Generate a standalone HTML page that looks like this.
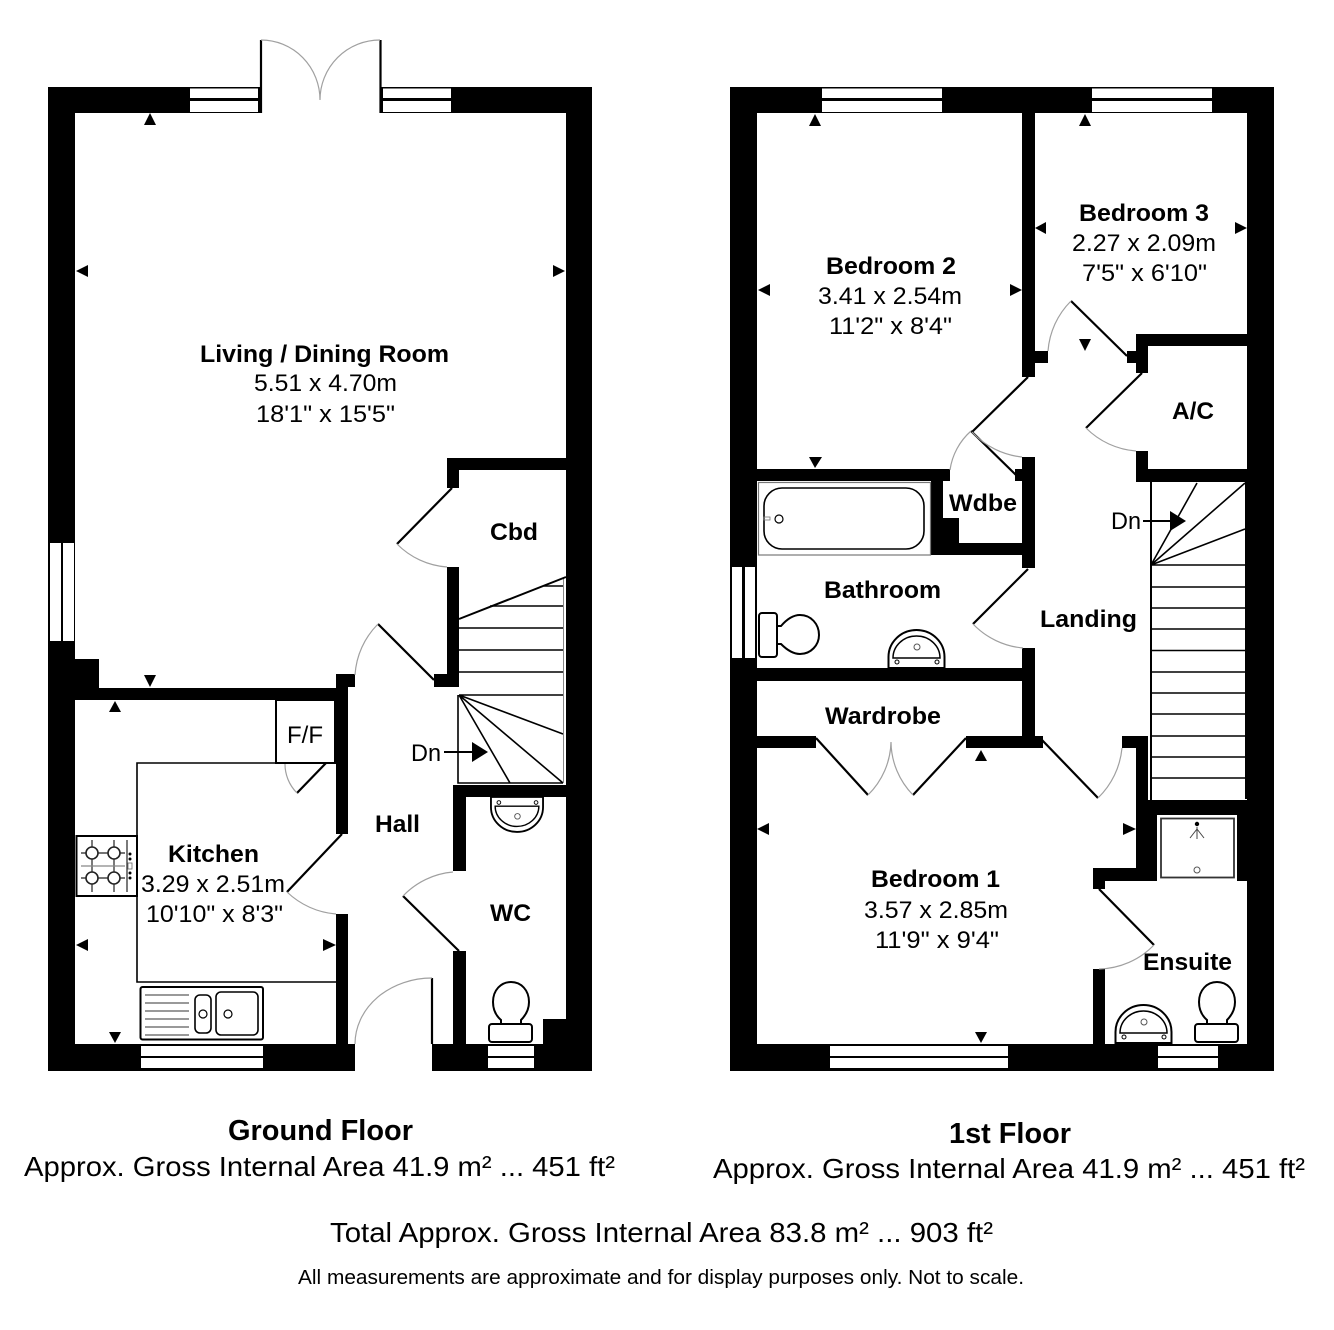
<!DOCTYPE html>
<html>
<head>
<meta charset="utf-8">
<style>
html,body{margin:0;padding:0;background:#fff}
svg{display:block}
text{font-family:"Liberation Sans",Arial,sans-serif;fill:#000}
.b{font-weight:bold;font-size:24.5px}
.r{font-size:24.5px}
.leaf{stroke:#000;stroke-width:2.2;fill:none}
.arc{stroke:#a0a0a0;stroke-width:1.2;fill:none}
.l{stroke:#000;stroke-width:1.6;fill:none}
.t{stroke:#000;stroke-width:2;fill:#fff}
</style>
</head>
<body>
<svg width="1334" height="1330" viewBox="0 0 1334 1330" xmlns="http://www.w3.org/2000/svg">
<rect width="1334" height="1330" fill="#fff"/>

<!-- GROUND FLOOR WALLS -->
<g fill="#000">
<rect x="48" y="87" width="27" height="984"/>
<rect x="48" y="87" width="214" height="26"/>
<rect x="380" y="87" width="212" height="26"/>
<rect x="566" y="87" width="26" height="984"/>
<rect x="48" y="1044" width="307" height="27"/>
<rect x="432" y="1044" width="160" height="27"/>
<rect x="75" y="659" width="24" height="30"/>
<rect x="75" y="688" width="273" height="12"/>
<rect x="336" y="674" width="12" height="160"/>
<rect x="336" y="674" width="19" height="13"/>
<rect x="336" y="914" width="12" height="130"/>
<rect x="447" y="458" width="119" height="12"/>
<rect x="447" y="458" width="12" height="30"/>
<rect x="447" y="567" width="12" height="120"/>
<rect x="434" y="674" width="25" height="13"/>
<rect x="453" y="785" width="113" height="12"/>
<rect x="453" y="785" width="13" height="86"/>
<rect x="453" y="951" width="13" height="93"/>
<rect x="543" y="1019" width="23" height="25"/>
</g>
<!-- ground windows -->
<g fill="#fff">
<rect x="190" y="88.5" width="68" height="9.5"/><rect x="190" y="101" width="68" height="11"/>
<rect x="383" y="88.5" width="68" height="9.5"/><rect x="383" y="101" width="68" height="11"/>
<rect x="50" y="543" width="11" height="98"/><rect x="63" y="543" width="11" height="98"/>
<rect x="141" y="1046" width="122" height="10"/><rect x="141" y="1058" width="122" height="10"/>
<rect x="488" y="1046" width="46" height="10"/><rect x="488" y="1058" width="46" height="10"/>
</g>
<!-- French doors -->
<path class="leaf" d="M261 40V113M380.500 40V113"/>
<path class="arc" d="M261 40A59 60 0 0 1 320 100M380 40A60 60 0 0 0 320 100"/>
<!-- ground doors -->
<path class="leaf" d="M452 488L397 544M434 680L378 624M459 951L403 896M342 834L287 892M326 763L297 793M432 978V1044"/>
<path class="arc" d="M397 544A78 78 0 0 0 447 567M378 624A79 79 0 0 0 355 675M403 896A78 78 0 0 1 453 872M287 892A80 80 0 0 0 336 914M297 793A41 41 0 0 1 285 763M432 978A77 66 0 0 0 355 1044"/>
<!-- ground stairs -->
<path class="l" d="M458 695V783H563M459 695H563M459 672H563M459 650H563M459 628H563M490 606H563M544 586H563M459 695L563 734M459 695L563 783M459 695L510 783"/>
<path d="M563.500 578V783" stroke="#888" stroke-width="1" fill="none"/>
<path d="M459 619L566 577" stroke="#000" stroke-width="2" fill="none"/>
<path d="M444 752H472" stroke="#000" stroke-width="2"/>
<path d="M472 742L488 752L472 762Z" fill="#000"/>
<!-- kitchen fittings -->
<path class="l" d="M137 836V763H276M137 896V982H336"/>
<rect x="276" y="700" width="59" height="63" fill="none" stroke="#000" stroke-width="2"/>
<rect x="76.500" y="836" width="60.500" height="60" fill="#fff" stroke="#000" stroke-width="2"/>
<g stroke="#222" stroke-width="1.2" fill="none">
<path d="M92 840V892M114 840V892M81 853H125M81 878H125M127 840V892"/>
<path d="M81 866H125" stroke="#888"/>
<circle cx="92" cy="853" r="6" fill="#fff" stroke-width="1.6"/><circle cx="114" cy="853" r="6" fill="#fff" stroke-width="1.6"/>
<circle cx="92" cy="878" r="6" fill="#fff" stroke-width="1.6"/><circle cx="114" cy="878" r="6" fill="#fff" stroke-width="1.6"/>
</g>
<g fill="#000"><circle cx="130" cy="854" r="1.5"/><circle cx="130" cy="859" r="1.5"/><circle cx="130" cy="873" r="1.5"/><circle cx="130" cy="878" r="1.500"/></g>
<rect x="128" y="863" width="4" height="6" fill="#fff" stroke="#666" stroke-width=".8"/>
<rect x="140.500" y="987" width="122.500" height="52.500" rx="2" fill="#fff" stroke="#000" stroke-width="2"/>
<path d="M145 995H189M145 1003H189M145 1011H189M145 1019H189M145 1027H189M145 1035H189" stroke="#333" stroke-width="1" fill="none"/>
<rect x="195" y="995" width="16" height="38" rx="5" fill="none" stroke="#000" stroke-width="1.6"/>
<rect x="216" y="992" width="42" height="43" rx="5" fill="none" stroke="#000" stroke-width="1.6"/>
<circle cx="203" cy="1014" r="4" fill="none" stroke="#000" stroke-width="1.2"/>
<circle cx="228" cy="1014" r="4" fill="none" stroke="#000" stroke-width="1.2"/>
<!-- WC fittings -->
<g transform="translate(517,797) scale(.93,-.92) translate(-916.5,-668)">
<path class="t" d="M888.500 668V657A28 27 0 0 1 944.500 657V668Z"/>
<path d="M893 658A23.500 22 0 0 1 940 658Z" fill="none" stroke="#000" stroke-width="1.500"/>
<circle cx="897" cy="662" r="2" fill="#fff" stroke="#000"/><circle cx="937" cy="662" r="2" fill="#fff" stroke="#000"/><circle cx="917" cy="647" r="3" fill="none" stroke="#555"/>
</g>
<g transform="translate(-706,0)">
<path class="t" d="M1207 1024V1020C1200 1014 1199 1007 1199 1002C1199 990 1207 982 1217 982C1227 982 1235 990 1235 1002C1235 1007 1233 1014 1227 1020V1024Z"/>
<rect class="t" x="1195" y="1024" width="43" height="18" rx="3"/>
</g>

<!-- ground triangles -->
<g fill="#000">
<path d="M144 125L150 113L156 125Z"/>
<path d="M88 265L76 271L88 277Z"/>
<path d="M553 265L565 271L553 277Z"/>
<path d="M144 675L150 687L156 675Z"/>
<path d="M109 712L115 701L121 712Z"/>
<path d="M88 939L76 945L88 951Z"/>
<path d="M323 939L336 945L323 951Z"/>
<path d="M109 1032L115 1043L121 1032Z"/>
</g>

<!-- FIRST FLOOR WALLS -->
<g fill="#000">
<rect x="730" y="87" width="27" height="984"/>
<rect x="730" y="87" width="544" height="26"/>
<rect x="1247" y="87" width="27" height="984"/>
<rect x="1245" y="469" width="29" height="330"/>
<rect x="730" y="1044" width="544" height="27"/>
<rect x="1022" y="113" width="13" height="264"/>
<rect x="1035" y="351" width="13" height="12"/>
<rect x="1136" y="334" width="111" height="12"/>
<rect x="1136" y="334" width="12" height="39"/>
<rect x="1127" y="351" width="9" height="12"/>
<rect x="1136" y="451" width="12" height="31"/>
<rect x="1136" y="469" width="111" height="13"/>
<rect x="1022" y="457" width="13" height="111"/>
<rect x="1015" y="469" width="7" height="12"/>
<rect x="757" y="469" width="193" height="12"/>
<rect x="931" y="469" width="12" height="86"/>
<rect x="931" y="518" width="28" height="37"/>
<rect x="931" y="543" width="91" height="12"/>
<rect x="1022" y="648" width="13" height="100"/>
<rect x="757" y="668" width="265" height="13"/>
<rect x="757" y="736" width="59" height="12"/>
<rect x="966" y="736" width="77" height="12"/>
<rect x="1136" y="736" width="12" height="80"/>
<rect x="1122" y="736" width="26" height="12"/>
<rect x="1136" y="800" width="138" height="15"/>
<rect x="1136" y="800" width="21" height="81"/>
<rect x="1237" y="800" width="37" height="81"/>
<rect x="1093" y="868" width="64" height="13"/>
<rect x="1093" y="868" width="12" height="21"/>
<rect x="1093" y="969" width="12" height="76"/>
</g>
<!-- first windows -->
<g fill="#fff">
<rect x="822" y="88.500" width="120" height="9.500"/><rect x="822" y="101" width="120" height="11"/>
<rect x="1092" y="88.500" width="120" height="9.500"/><rect x="1092" y="101" width="120" height="11"/>
<rect x="732" y="567" width="10" height="91"/><rect x="745" y="567" width="10" height="91"/>
<rect x="830" y="1046" width="178" height="10"/><rect x="830" y="1058" width="178" height="10"/>
<rect x="1158" y="1046" width="60" height="10"/><rect x="1158" y="1058" width="60" height="10"/>
</g>
<!-- first doors -->
<path class="leaf" d="M1127 356L1071 301M1142 373L1086 428M1028 377L972 432M1016 475L971 431M1028 569L973 624M816 738L868 795M966 738L913 795M1042 740L1098 798M1099 889L1154 945"/>
<path class="arc" d="M1071 301A79 79 0 0 0 1048 351M1086 428A79 79 0 0 0 1136 451M972 432A79 79 0 0 0 1022 457M971 431A64 64 0 0 0 950 470M973 624A79 79 0 0 0 1023 648M868 795A77 77 0 0 0 891 742M913 795A77 77 0 0 1 891 742M1098 798A80 80 0 0 0 1122 748M1154 945A79 79 0 0 1 1099 969"/>
<!-- first stairs -->
<rect x="1151" y="482" width="94" height="316" fill="#fff"/>
<path d="M1151 482V800" stroke="#000" stroke-width="2" fill="none"/>
<path class="l" d="M1151 565H1245M1151 587H1245M1151 608H1245M1151 629H1245M1151 650.500H1245M1151 672H1245M1151 693H1245M1151 714H1245M1151 736H1245M1151 757H1245M1151 778H1245M1151 565L1245 529M1151 565L1245 483M1151 565L1197 483"/>
<path d="M1143 521H1170" stroke="#000" stroke-width="2"/>
<path d="M1170 511L1186 521L1170 531Z" fill="#000"/>
<!-- bath -->
<rect x="758.500" y="482.500" width="172" height="72.500" fill="#fff" stroke="#777" stroke-width="1.200"/>
<rect x="764" y="488" width="160" height="61" rx="18" fill="#fff" stroke="#000" stroke-width="1.600"/>
<circle cx="779" cy="519" r="4" fill="none" stroke="#000" stroke-width="1.200"/>
<rect x="764" y="517" width="6" height="3" fill="none" stroke="#777" stroke-width=".8"/>
<!-- bathroom toilet -->
<path class="t" d="M777 626H781C787 619 793 615 800 615C811 615 819 624 819 635C819 645 811 654 800 654C793 654 787 650 781 644H777Z"/>
<rect class="t" x="759" y="613" width="18" height="44" rx="3"/>
<!-- bathroom basin -->
<path class="t" d="M888.500 668V657A28 27 0 0 1 944.500 657V668Z"/>
<path d="M893 658A23.500 22 0 0 1 940 658Z" fill="none" stroke="#000" stroke-width="1.500"/>
<circle cx="897" cy="662" r="2" fill="#fff" stroke="#000"/><circle cx="937" cy="662" r="2" fill="#fff" stroke="#000"/><circle cx="917" cy="647" r="3" fill="none" stroke="#555"/>
<!-- ensuite fittings -->
<g transform="translate(227,375)">
<path class="t" d="M888.500 668V657A28 27 0 0 1 944.500 657V668Z"/>
<path d="M893 658A23.500 22 0 0 1 940 658Z" fill="none" stroke="#000" stroke-width="1.500"/>
<circle cx="897" cy="662" r="2" fill="#fff" stroke="#000"/><circle cx="937" cy="662" r="2" fill="#fff" stroke="#000"/><circle cx="917" cy="647" r="3" fill="none" stroke="#555"/>
</g>
<path class="t" d="M1207 1024V1020C1200 1014 1199 1007 1199 1002C1199 990 1207 982 1217 982C1227 982 1235 990 1235 1002C1235 1007 1233 1014 1227 1020V1024Z"/>
<rect class="t" x="1195" y="1024" width="43" height="18" rx="3"/>
<!-- shower -->
<rect x="1157" y="815" width="80" height="66" fill="#fff"/>
<rect x="1161" y="818.500" width="73" height="59" fill="#fff" stroke="#333" stroke-width="1.800"/>
<circle cx="1197" cy="824" r="2.200" fill="#000"/>
<path d="M1197 827V839M1197 829L1190 838M1197 829L1204 838" stroke="#444" stroke-width="1" fill="none"/>
<circle cx="1197" cy="870" r="3" fill="none" stroke="#555" stroke-width="1"/>
<!-- first triangles -->
<g fill="#000">
<path d="M809 126L815 114L821 126Z"/>
<path d="M770 284L758 290L770 296Z"/>
<path d="M1010 284L1022 290L1010 296Z"/>
<path d="M809 457L815 468L822 457Z"/>
<path d="M1079 126L1085 114L1091 126Z"/>
<path d="M1046 222L1035 228L1046 234Z"/>
<path d="M1235 222L1247 228L1235 234Z"/>
<path d="M1079 339L1085 351L1091 339Z"/>
<path d="M975 761L981 750L987 761Z"/>
<path d="M769 823L757 829L769 835Z"/>
<path d="M1123 823L1136 829L1123 835Z"/>
<path d="M975 1032L981 1043L987 1032Z"/>
</g>

<!-- LABELS GROUND -->
<text class="b" x="200" y="362" textLength="249" lengthAdjust="spacingAndGlyphs">Living / Dining Room</text>
<text class="r" x="254" y="391" textLength="143" lengthAdjust="spacingAndGlyphs">5.51 x 4.70m</text>
<text class="r" x="256" y="422" textLength="139" lengthAdjust="spacingAndGlyphs">18'1" x 15'5"</text>
<text class="b" x="168" y="862" textLength="91" lengthAdjust="spacingAndGlyphs">Kitchen</text>
<text class="r" x="141" y="892" textLength="144" lengthAdjust="spacingAndGlyphs">3.29 x 2.51m</text>
<text class="r" x="146" y="922" textLength="137" lengthAdjust="spacingAndGlyphs">10'10" x 8'3"</text>
<text class="b" x="375" y="832" textLength="45" lengthAdjust="spacingAndGlyphs">Hall</text>
<text class="b" x="490" y="540" textLength="48" lengthAdjust="spacingAndGlyphs">Cbd</text>
<text class="b" x="490" y="921" textLength="41" lengthAdjust="spacingAndGlyphs">WC</text>
<text class="r" x="287" y="743" textLength="36" lengthAdjust="spacingAndGlyphs">F/F</text>
<text class="r" x="411" y="761" textLength="30" lengthAdjust="spacingAndGlyphs">Dn</text>

<!-- LABELS FIRST -->
<text class="b" x="826" y="274" textLength="130" lengthAdjust="spacingAndGlyphs">Bedroom 2</text>
<text class="r" x="818" y="304" textLength="144" lengthAdjust="spacingAndGlyphs">3.41 x 2.54m</text>
<text class="r" x="829" y="334" textLength="123" lengthAdjust="spacingAndGlyphs">11'2" x 8'4"</text>
<text class="b" x="1079" y="221" textLength="130" lengthAdjust="spacingAndGlyphs">Bedroom 3</text>
<text class="r" x="1072" y="251" textLength="144" lengthAdjust="spacingAndGlyphs">2.27 x 2.09m</text>
<text class="r" x="1082" y="281" textLength="125" lengthAdjust="spacingAndGlyphs">7'5" x 6'10"</text>
<text class="b" x="871" y="887" textLength="129" lengthAdjust="spacingAndGlyphs">Bedroom 1</text>
<text class="r" x="864" y="918" textLength="144" lengthAdjust="spacingAndGlyphs">3.57 x 2.85m</text>
<text class="r" x="875" y="948" textLength="124" lengthAdjust="spacingAndGlyphs">11'9" x 9'4"</text>
<text class="b" x="824" y="598" textLength="117" lengthAdjust="spacingAndGlyphs">Bathroom</text>
<text class="b" x="825" y="724" textLength="116" lengthAdjust="spacingAndGlyphs">Wardrobe</text>
<text class="b" x="1040" y="627" textLength="97" lengthAdjust="spacingAndGlyphs">Landing</text>
<text class="b" x="949" y="511" textLength="68" lengthAdjust="spacingAndGlyphs">Wdbe</text>
<text class="b" x="1172" y="419" textLength="42" lengthAdjust="spacingAndGlyphs">A/C</text>
<text class="b" x="1143" y="970" textLength="89" lengthAdjust="spacingAndGlyphs">Ensuite</text>
<text class="r" x="1111" y="529" textLength="30" lengthAdjust="spacingAndGlyphs">Dn</text>

<!-- FOOTER -->
<text x="228" y="1140" font-weight="bold" font-size="29" textLength="185" lengthAdjust="spacingAndGlyphs">Ground Floor</text>
<text x="24" y="1176" font-size="28" textLength="591" lengthAdjust="spacingAndGlyphs">Approx. Gross Internal Area 41.9 m² ... 451 ft²</text>
<text x="949" y="1143" font-weight="bold" font-size="29" textLength="122" lengthAdjust="spacingAndGlyphs">1st Floor</text>
<text x="713" y="1178" font-size="28" textLength="592" lengthAdjust="spacingAndGlyphs">Approx. Gross Internal Area 41.9 m² ... 451 ft²</text>
<text x="330" y="1242" font-size="28" textLength="663" lengthAdjust="spacingAndGlyphs">Total Approx. Gross Internal Area 83.8 m² ... 903 ft²</text>
<text x="298" y="1284" font-size="20" textLength="726" lengthAdjust="spacingAndGlyphs">All measurements are approximate and for display purposes only. Not to scale.</text>
</svg>
</body>
</html>
